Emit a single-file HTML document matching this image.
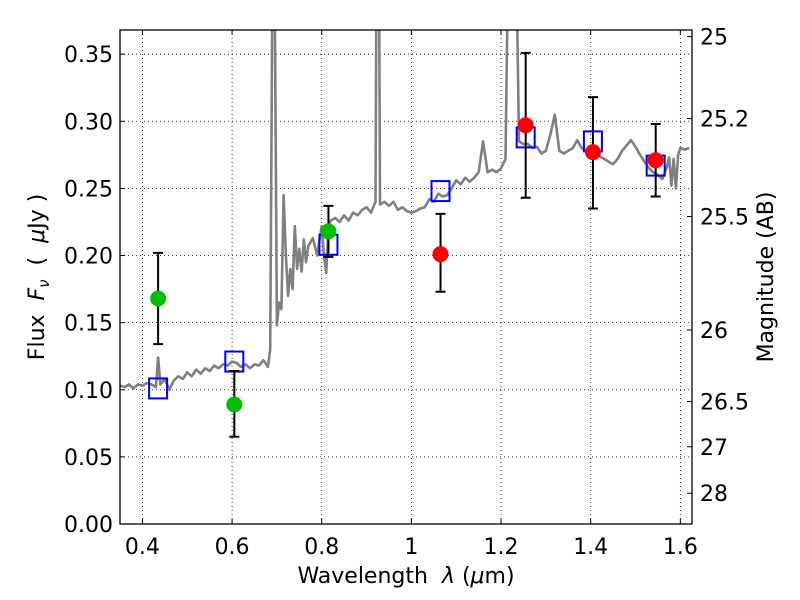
<!DOCTYPE html>
<html><head><meta charset="utf-8"><style>
body{margin:0;background:#fff}
svg{display:block;font-family:"DejaVu Sans","Liberation Sans",sans-serif}
</style></head><body>
<svg id="chart" width="800" height="600" viewBox="0 0 800 600">
<rect width="800" height="600" fill="#fff"/>
<g id="grid"></g>
<g id="spec"></g>
<g id="marks"></g>
<rect x="120" y="30" width="572" height="494" fill="none" stroke="#000" stroke-width="1.3"/>
<g id="axes"></g>
<text x="406" y="583" font-size="22" text-anchor="middle" xml:space="preserve">Wavelength  <tspan font-style="italic">λ</tspan> (<tspan font-style="italic">μ</tspan>m)</text>
<text transform="translate(44,277) rotate(-90)" font-size="22" text-anchor="middle" xml:space="preserve">Flux  <tspan font-style="italic">F</tspan><tspan font-style="italic" font-size="15" dy="5">ν</tspan><tspan dy="-5">  (  </tspan><tspan font-style="italic">μ</tspan>Jy )</text>
<text transform="translate(773,277) rotate(-90)" font-size="22" text-anchor="middle">Magnitude (AB)</text>
</svg>
<script>
const xTicks=[0.4,0.6,0.8,1.0,1.2,1.4,1.6];
const xTickLabels=["0.4","0.6","0.8","1","1.2","1.4","1.6"];
const yTicks=[0,0.05,0.10,0.15,0.20,0.25,0.30,0.35];
const yTickLabels=["0.00","0.05","0.10","0.15","0.20","0.25","0.30","0.35"];
const magTicks=[25,25.2,25.5,26,26.5,27,28];
const magTickLabels=["25","25.2","25.5","26","26.5","27","28"];
const specWave=[0.35,0.36,0.37,0.38,0.39,0.40,0.41,0.42,0.43,0.435,0.44,0.45,0.46,0.47,0.48,0.49,0.50,0.51,0.52,0.53,0.54,0.55,0.56,0.57,0.58,0.59,0.60,0.61,0.62,0.63,0.64,0.65,0.66,0.67,0.68,0.685,0.69,0.695,0.70,0.705,0.71,0.715,0.72,0.725,0.73,0.735,0.74,0.745,0.75,0.755,0.76,0.765,0.77,0.78,0.79,0.80,0.805,0.81,0.815,0.82,0.83,0.84,0.85,0.86,0.87,0.88,0.89,0.90,0.91,0.92,0.922,0.925,0.928,0.93,0.94,0.95,0.96,0.97,0.98,0.99,1.00,1.01,1.02,1.03,1.04,1.05,1.06,1.07,1.08,1.09,1.10,1.11,1.12,1.13,1.14,1.15,1.16,1.17,1.18,1.19,1.20,1.21,1.215,1.22,1.225,1.23,1.235,1.24,1.25,1.26,1.27,1.28,1.29,1.30,1.31,1.32,1.33,1.34,1.35,1.36,1.37,1.38,1.39,1.40,1.41,1.42,1.43,1.44,1.45,1.46,1.47,1.48,1.49,1.50,1.51,1.52,1.53,1.54,1.55,1.56,1.57,1.575,1.58,1.585,1.59,1.595,1.60,1.61,1.62,1.626];
const specFlux=[0.103,0.102,0.104,0.101,0.104,0.103,0.105,0.104,0.102,0.124,0.104,0.108,0.100,0.107,0.110,0.108,0.113,0.110,0.115,0.112,0.116,0.114,0.118,0.116,0.119,0.118,0.121,0.120,0.117,0.119,0.116,0.119,0.118,0.122,0.117,0.13,0.40,0.40,0.148,0.165,0.16,0.245,0.20,0.170,0.190,0.175,0.222,0.190,0.205,0.188,0.212,0.195,0.207,0.213,0.200,0.222,0.200,0.187,0.222,0.226,0.228,0.225,0.230,0.226,0.232,0.230,0.234,0.236,0.232,0.240,0.40,0.40,0.40,0.238,0.240,0.237,0.240,0.234,0.236,0.233,0.232,0.233,0.235,0.236,0.242,0.240,0.246,0.244,0.245,0.250,0.256,0.253,0.258,0.255,0.258,0.262,0.285,0.262,0.264,0.262,0.265,0.272,0.40,0.40,0.40,0.40,0.40,0.285,0.283,0.283,0.280,0.281,0.276,0.278,0.290,0.305,0.278,0.276,0.278,0.280,0.286,0.280,0.278,0.280,0.276,0.274,0.272,0.270,0.268,0.272,0.278,0.282,0.286,0.281,0.275,0.270,0.265,0.262,0.260,0.257,0.266,0.273,0.252,0.272,0.250,0.275,0.280,0.279,0.280];
const photWave=[0.435,0.605,0.815,1.065,1.255,1.405,1.545];
const modelFlux=[0.101,0.121,0.208,0.248,0.288,0.285,0.267];
const greenWave=[0.435,0.605,0.815];
const greenFlux=[0.168,0.089,0.218];
const greenLo=[0.134,0.065,0.199];
const greenHi=[0.202,0.114,0.237];
const redWave=[1.065,1.255,1.405,1.545];
const redFlux=[0.201,0.297,0.277,0.271];
const redLo=[0.173,0.243,0.235,0.244];
const redHi=[0.231,0.351,0.318,0.298];

const NS="http://www.w3.org/2000/svg";
const X0=120,X1=692,Y0=524,Y1=30,XMIN=0.35,XMAX=1.626,YMIN=0,YMAX=0.368;
const sx=v=>X0+(v-XMIN)/(XMAX-XMIN)*(X1-X0);
const sy=v=>Y0-(v-YMIN)/(YMAX-YMIN)*(Y0-Y1);
const magToFlux=m=>Math.pow(10,(23.9-m)/2.5);
function mk(tag,attrs,parent){const e=document.createElementNS(NS,tag);for(const k in attrs)e.setAttribute(k,attrs[k]);parent.appendChild(e);return e;}
const grid=document.getElementById('grid'),axes=document.getElementById('axes'),spec=document.getElementById('spec'),marks=document.getElementById('marks');

xTicks.forEach((t,i)=>{const x=sx(t);
 const g=mk('line',{x1:x,x2:x,y1:Y1,y2:Y0,stroke:'#000','stroke-width':0.8,'stroke-dasharray':'1,3'},grid);
 
 
 const a=mk('line',{x1:x,x2:x,y1:Y0,y2:Y0-5,stroke:'#000'},axes);
 
 
 const b=mk('line',{x1:x,x2:x,y1:Y1,y2:Y1+5,stroke:'#000'},axes);
 
 
 const tx=mk('text',{x:x,y:Y0+30,'font-size':22,'text-anchor':'middle'},axes);tx.textContent=xTickLabels[i];
 
 
});
yTicks.forEach((t,i)=>{const y=sy(t);
 const g=mk('line',{x1:X0,x2:X1,y1:y,y2:y,stroke:'#000','stroke-width':0.8,'stroke-dasharray':'1,3'},grid);
 
 
 const a=mk('line',{x1:X0,x2:X0+5,y1:y,y2:y,stroke:'#000'},axes);
 
 
 const tx=mk('text',{x:X0-7,y:y+8,'font-size':22,'text-anchor':'end'},axes);tx.textContent=yTickLabels[i];
 
 
});
magTicks.forEach((m,i)=>{const y=sy(magToFlux(m));
 const a=mk('line',{x1:X1-5,x2:X1,y1:y,y2:y,stroke:'#000'},axes);
 
 
 const tx=mk('text',{x:X1+8,y:y+8,'font-size':22},axes);tx.textContent=magTickLabels[i];
 
 
});

const clip=mk('clipPath',{id:'pc'},document.getElementById('chart'));
mk('rect',{x:X0,y:Y1,width:X1-X0,height:Y0-Y1},clip);
spec.setAttribute('clip-path','url(#pc)');
marks.setAttribute('clip-path','url(#pc)');
const pts=specWave.map((w,i)=>sx(w).toFixed(1)+','+sy(specFlux[i]).toFixed(1)).join(' ');
const pl=mk('polyline',{points:pts,fill:'none',stroke:'#808080','stroke-width':2.6,'stroke-linejoin':'round'},spec);



photWave.forEach((w,i)=>{
 const r=mk('rect',{x:sx(w)-9,y:sy(modelFlux[i])-10,width:18,height:20,fill:'none',stroke:'#0000ff','stroke-width':2},marks);
 
 
});
function pointsWithErr(W,F,L,H,color,name){
 W.forEach((w,i)=>{const x=sx(w);
  const e=mk('path',{d:`M${x},${sy(L[i])}V${sy(H[i])}M${x-5},${sy(L[i])}H${x+5}M${x-5},${sy(H[i])}H${x+5}`,stroke:'#000','stroke-width':2,fill:'none'},marks);
  
  
  const c=mk('circle',{cx:x,cy:sy(F[i]),r:8,fill:color},marks);
  
  
 });
}
pointsWithErr(greenWave,greenFlux,greenLo,greenHi,'#00bf00','green-photometry-point');
pointsWithErr(redWave,redFlux,redLo,redHi,'#ff0000','red-photometry-point');
</script>
</body></html>
